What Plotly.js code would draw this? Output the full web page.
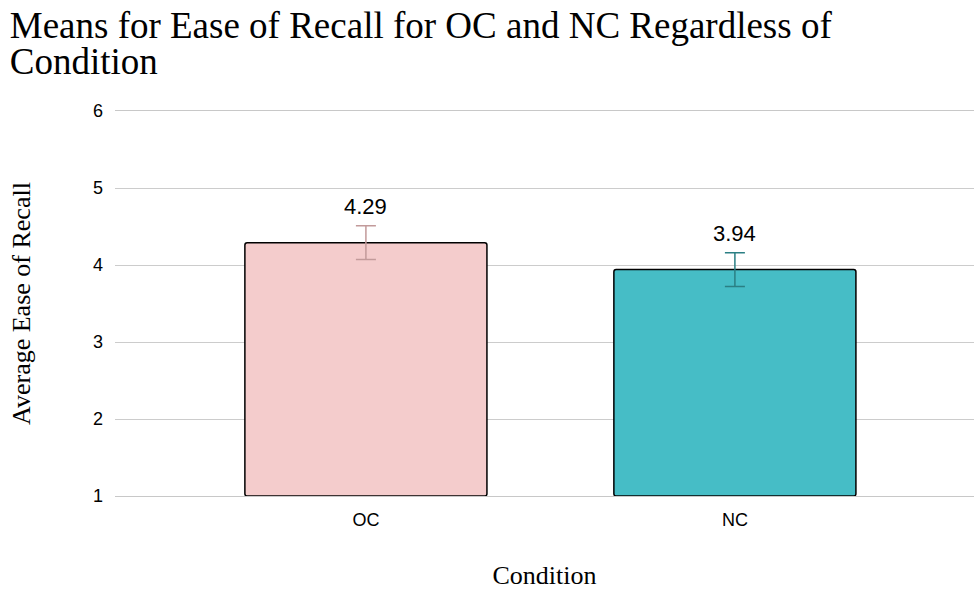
<!DOCTYPE html>
<html>
<head>
<meta charset="utf-8">
<script src="https://cdn.plot.ly/plotly-3.0.1.min.js"></script>
<style>html,body{margin:0;padding:0;background:#fff;}#chart{width:974px;height:590px;}</style>
</head>
<body>
<div id="chart"></div>
<script>
var categories = ["OC", "NC"];
var means = [4.29, 3.94];
var errors = [0.22, 0.22];
var barColors = ["#f4cccc", "#46bdc6"];
var errColors = ["#c29a9a", "#2b7f84"];
var yTicks = [1, 2, 3, 4, 5, 6];
var yBase = 1;

var traces = [];
for (var i = 0; i < categories.length; i++) {
  traces.push({
    type: "bar",
    x: [categories[i]],
    y: [means[i] - yBase],
    base: yBase,
    width: 0.656,
    marker: {color: barColors[i], line: {color: "#000000", width: 1.5}, cornerradius: 3},
    error_y: {type: "data", array: [errors[i]], visible: true, color: errColors[i], thickness: 1.5, width: 10},
    showlegend: false,
    hoverinfo: "skip"
  });
}

var annotations = categories.map(function(c, i){
  return {
    x: c, y: means[i] + errors[i], xref: "x", yref: "y",
    text: means[i].toFixed(2), showarrow: false,
    yanchor: "bottom", yshift: 5,
    font: {family: "Liberation Sans, Arial, sans-serif", size: 22, color: "#000"}
  };
});

var layout = {
  width: 974, height: 590,
  margin: {l: 115, r: 0, t: 111, b: 94},
  paper_bgcolor: "#fff", plot_bgcolor: "#fff",
  title: {
    text: "Means for Ease of Recall for OC and NC Regardless of<br>Condition",
    font: {family: "Liberation Serif, Georgia, serif", size: 37, color: "#000"},
    xref: "container", yref: "container", x: 0.01, xanchor: "left", y: 0.935, yanchor: "top"
  },
  xaxis: {
    type: "category",
    range: [-0.680, 1.648],
    showgrid: false, zeroline: false,
    showline: true, linecolor: "#c8c8c8", linewidth: 1, mirror: true,
    tickfont: {family: "Liberation Sans, Arial, sans-serif", size: 18, color: "#000"},
    ticks: "", ticklabelstandoff: 7,
    title: {text: "Condition", font: {family: "Liberation Serif, Georgia, serif", size: 26, color: "#000"}, standoff: 45}
  },
  yaxis: {
    range: [1, 6],
    tickvals: yTicks,
    showgrid: true, gridcolor: "#cccccc", gridwidth: 1,
    zeroline: false, showline: false,
    tickfont: {family: "Liberation Sans, Arial, sans-serif", size: 18, color: "#000"},
    ticks: "", ticklabelstandoff: 11,
    title: {text: "Average Ease of Recall", font: {family: "Liberation Serif, Georgia, serif", size: 26, color: "#000"}, standoff: 54}
  },
  annotations: annotations,
  bargap: 0,
  hovermode: false
};

Plotly.newPlot("chart", traces, layout, {displayModeBar: false, staticPlot: true}).then(function(gd){
  var lines = gd.querySelectorAll(".gtitle tspan.line");
  if (lines.length > 1) { lines[1].setAttribute("dy", "0.95em"); }
});
</script>
</body>
</html>
